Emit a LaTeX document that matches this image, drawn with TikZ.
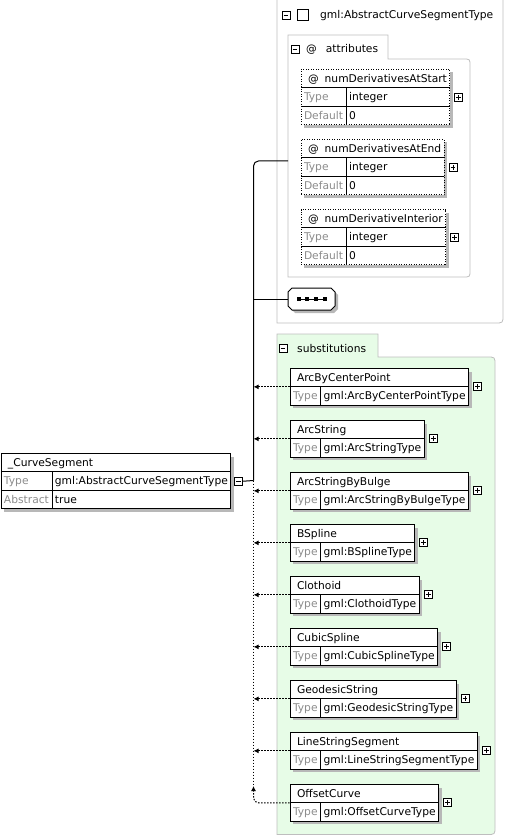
\documentclass[tikz,border=0pt]{standalone}
\usepackage{fontspec}
\setmainfont{DejaVu Sans}
\usepackage{tikz}
\usetikzlibrary{positioning, arrows.meta, shadows}
\definecolor{framegray}{RGB}{190,190,190}
\definecolor{subgreen}{RGB}{231,252,231}
\definecolor{labelgray}{RGB}{140,140,140}
\renewcommand{\arraystretch}{1.38}
\setlength{\tabcolsep}{3pt}
\setlength{\arrayrulewidth}{0.8pt}
\tikzset{
elem/.style={draw, line width=1pt, fill=white, inner sep=0, anchor=north west, drop shadow={shadow xshift=3pt, shadow yshift=-3pt, fill=black!28, opacity=1}},
attr/.style={elem, dash pattern=on 1pt off 1.5pt},
frame/.style={draw=framegray, line width=0.8pt},
collapser/.style={draw, fill=white, line width=0.8pt, minimum size=8pt, inner sep=0, path picture={\draw[line width=0.8pt] ([xshift=1.6pt]path picture bounding box.west) -- ([xshift=-1.6pt]path picture bounding box.east);}},
expander/.style={draw, fill=white, line width=0.8pt, minimum size=8pt, inner sep=0, path picture={\draw[line width=0.8pt] ([xshift=1.6pt]path picture bounding box.west) -- ([xshift=-1.6pt]path picture bounding box.east); \draw[line width=0.8pt] ([yshift=1.6pt]path picture bounding box.south) -- ([yshift=-1.6pt]path picture bounding box.north);}},
seqbox/.style={minimum width=47pt, minimum height=22pt, inner sep=0},
link/.style={draw, line width=1pt},
subst/.style={draw, line width=1pt, dash pattern=on 1.5pt off 1.5pt, -{Latex[length=5pt, width=5pt]}}}

\begin{document}
\begin{tikzpicture}[x=1pt, y=-1pt, font=\fontsize{10.7}{13}\selectfont]
\useasboundingbox (0,0) rectangle (506,837);
% containers
\draw[frame] (277,0) -- (277,323) -- (495,323) .. controls (503,323) .. (503,315) -- (503,0);
\draw[frame] (288,277) -- (288,35) -- (388,35) -- (388,59) -- (463,59) .. controls (470,59) .. (470,66) -- (470,270) .. controls (470,277) .. (463,277) -- cycle;
\draw[frame, fill=subgreen] (277,834.5) -- (277,334) -- (378,334) -- (378,357) -- (487,357) .. controls (495,357) .. (495,365) -- (495,826.5) .. controls (495,834.5) .. (487,834.5) -- cycle;

% complex type header
\node[collapser] (type-tog) at (286,15) {};
\node[draw, line width=0.8pt, minimum size=11pt, inner sep=0, right=7pt of type-tog] (type-box) {};
\node[anchor=base west, inner sep=0] (type-name) at (320,18.5) {gml:AbstractCurveSegmentType};

% attributes
\node[collapser] (attr-tog) at (295,49) {};
\node[anchor=base west, inner sep=0] (attr-label) at (306,52.5) {@\hspace{9pt}attributes};
\foreach \aname [count=\i, evaluate={\y=69+70*(\i-1);}] in {numDerivativesAtStart, numDerivativesAtEnd, numDerivativeInterior}{
  \node[attr] (a-\i) at (300.5,\y) {\begin{tabular}{@{\hspace{3pt}}l|l@{\hspace{3pt}}}
    \multicolumn{2}{@{\hspace{7pt}}l@{\hspace{3pt}}}{@\hspace{6pt}\aname}\\\hline
    \textcolor{labelgray}{Type} & integer\\\hline
    \textcolor{labelgray}{Default} & 0
  \end{tabular}};
  \node[expander, right=4pt of a-\i.east] (a-\i-exp) {};
}

% sequence
\fill[black!28, shift={(3,3)}] (292,288) -- (331,288) -- (335,292) -- (335,306) -- (331,310) -- (292,310) -- (288,306) -- (288,292) -- cycle;
\draw[line width=1pt, fill=white] (292,288) -- (331,288) -- (335,292) -- (335,306) -- (331,310) -- (292,310) -- (288,306) -- (288,292) -- cycle;
\node[seqbox] (seq) at (311.5,299) {};
\draw[line width=1pt] ([xshift=-13pt]seq.center) -- ([xshift=13pt]seq.center);
\foreach \k in {-13,-4.5,4.5,13}
  \fill ([xshift=\k pt]seq.center) ++(-2,-2) rectangle ++(4,4);

% substitutions
\node[collapser] (subs-tog) at (283,348) {};
\node[anchor=base west, inner sep=0] (subs-label) at (297,352) {substitutions};
\foreach \sname [count=\i, evaluate={\y=368+52*(\i-1);}] in {ArcByCenterPoint, ArcString, ArcStringByBulge, BSpline, Clothoid, CubicSpline, GeodesicString, LineStringSegment, OffsetCurve}{
  \node[elem] (s-\i) at (289.5,\y) {\begin{tabular}{@{\hspace{3pt}}l|l@{\hspace{3pt}}}
    \multicolumn{2}{@{\hspace{7pt}}l@{\hspace{3pt}}}{\sname}\\\hline
    \textcolor{labelgray}{Type} & gml:\sname Type
  \end{tabular}};
  \node[expander, right=4pt of s-\i.east] (s-\i-exp) {};
}

% element
\node[elem] (cs) at (0.5,453) {\begin{tabular}{@{\hspace{3pt}}l|l@{\hspace{3pt}}}
  \multicolumn{2}{@{\hspace{7pt}}l@{\hspace{3pt}}}{\_CurveSegment}\\\hline
  \textcolor{labelgray}{Type} & gml:AbstractCurveSegmentType\\\hline
  \textcolor{labelgray}{Abstract} & true
\end{tabular}};
\node[collapser, right=3pt of cs.east] (cs-tog) {};

% connectors
\coordinate (bus) at (253.5,480.5);
\coordinate (bus-end) at (253.5,786);
\coordinate (attr-in) at (288,161);
\draw[link] (cs-tog.east) -- (bus);
\draw[link, rounded corners=5pt] (bus) |- (attr-in);
\draw[link] (seq.west) -- (seq.west -| bus);
\draw[subst, -] (bus) -- (bus-end);
\foreach \i in {1,...,8}
  \draw[subst] (s-\i.west) -- (s-\i.west -| bus);
\draw[subst, rounded corners=5pt] (s-9.west) -| (bus-end);
\end{tikzpicture}
\end{document}
